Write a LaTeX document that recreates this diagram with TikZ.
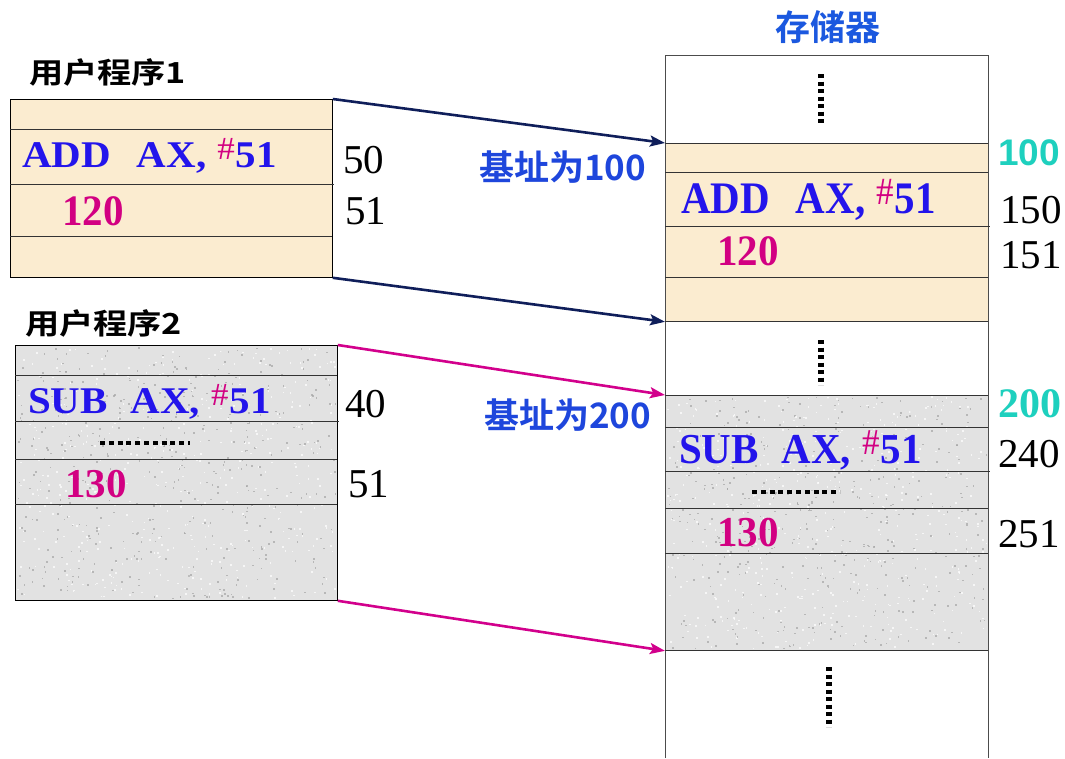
\documentclass[tikz,border=0pt]{standalone}
\usepackage{fontspec}
\setmainfont{Liberation Serif}
\newfontfamily\sansf{Liberation Sans}
\newfontfamily\cjk{Noto Sans CJK SC}[BoldFont={Noto Sans CJK SC Bold}]
\usetikzlibrary{arrows.meta}
\definecolor{insblue}{RGB}{35,20,235}
\definecolor{mag}{RGB}{210,0,130}
\definecolor{cyanlab}{RGB}{30,208,190}
\definecolor{labblue}{RGB}{30,70,220}
\definecolor{navyarr}{RGB}{15,30,90}
\definecolor{magarr}{RGB}{210,0,140}
\definecolor{beige}{RGB}{251,236,208}
\definecolor{granite}{RGB}{226,226,226}
\newcommand{\fs}[1]{\fontsize{#1pt}{#1pt}\selectfont}
\newcommand{\hsh}{\hspace{4pt}\raisebox{8pt}{\color{mag}\fs{35}\mdseries\#}\hspace{1pt}}
\tikzset{
  blk/.style={draw=black, line width=0.8pt, inner sep=0pt, anchor=north west},
  rowline/.style={black!80, line width=0.8pt},
  memline/.style={black!70, line width=0.9pt},
  txt/.style={inner sep=0pt, outer sep=0pt},
  ins/.style={txt, anchor=base west, text=insblue, font=\fs{41}\bfseries},
  val/.style={txt, anchor=base west, text=mag, font=\fs{41}\bfseries},
  addr/.style={txt, anchor=base west, text=black, font=\fs{41}},
  cjklab/.style={txt, anchor=west, font=\cjk\bfseries\fs{35}},
  arrA/.style={draw=navyarr, line width=2.6pt, -{Stealth[length=15pt,width=11pt,inset=3pt]}},
  arrB/.style={draw=magarr, line width=2.6pt, -{Stealth[length=15pt,width=11pt,inset=3pt]}},
  vdots/.style={line width=5.5pt, dash pattern=on 4.3pt off 3.2pt},
  hdots/.style={line width=4pt, dash pattern=on 5pt off 3.8pt},
}
\begin{document}
\begin{tikzpicture}[x=1pt, y=-1pt]
\useasboundingbox (0,0) rectangle (1065,758);
\fill[white] (0,0) rectangle (1065,758);
\pgfmathsetseed{7}

% ---------- program 1 ----------
\node[txt, anchor=west, font=\cjk\bfseries\fs{29}] (t1) at (29,72) {\scalebox{1.18}[1]{用户程序1}};
\node[blk, fill=beige, minimum width=322pt, minimum height=178pt] (p1) at (10,99) {};
\draw[rowline] (10,129) -- (332,129);
\draw[rowline] (10,184) -- (334,184);
\draw[rowline] (10,236) -- (332,236);
\node[ins] (add1) at (22,167) {\scalebox{1}[0.92]{ADD\hspace{26pt}AX,\hspace{7pt}\hsh51}};
\node[val] (v1) at (62,225) {\scalebox{1}[1.06]{120}};
\node[addr] (a50) at (343,173) {50};
\node[addr] (a51) at (345,224) {51};

% ---------- program 2 ----------
\node[txt, anchor=west, font=\cjk\bfseries\fs{29}] (t2) at (25,323) {\scalebox{1.18}[1]{用户程序2}};
\node[blk, fill=granite, minimum width=322pt, minimum height=255pt] (p2) at (15,345) {};
\foreach \i in {1,...,900}{
  \pgfmathsetmacro{\px}{17+rnd*318}\pgfmathsetmacro{\py}{347+rnd*251}
  \pgfmathsetmacro{\pc}{rnd>0.5?35:0}
  \fill[black!\pc!white, opacity=0.7] (\px,\py) rectangle ++(1.6,1.6);
}
\draw[rowline] (15,375) -- (337,375);
\draw[rowline] (15,421) -- (339,421);
\draw[rowline] (15,459) -- (337,459);
\draw[rowline] (15,504) -- (337,504);
\node[ins] (sub1) at (28,413) {\scalebox{1}[0.92]{SUB\hspace{23pt}AX,\hspace{7pt}\hsh51}};
\draw[hdots] (100,443) -- (190,443);
\node[val] (v2) at (65,497) {130};
\node[addr] (a40) at (345,417) {40};
\node[addr] (a51b) at (348,497) {51};

% ---------- memory ----------
\node[txt, anchor=west, text=labblue!90!cyan, font=\cjk\bfseries\fs{35}] (mem) at (775,27) {存储器};
\node[blk, draw=none, fill=beige, minimum width=323pt, minimum height=178pt] (m1) at (665,143) {};
\node[blk, draw=none, fill=granite, minimum width=323pt, minimum height=255pt] (m2) at (665,395) {};
\foreach \i in {1,...,900}{
  \pgfmathsetmacro{\px}{667+rnd*319}\pgfmathsetmacro{\py}{396+rnd*252}
  \pgfmathsetmacro{\pc}{rnd>0.5?35:0}
  \fill[black!\pc!white, opacity=0.7] (\px,\py) rectangle ++(1.6,1.6);
}
\draw[memline] (665,758) -- (665,55) -- (988,55) -- (988,758);
\foreach \yy in {143,172,277,321,395,427,508,553,650}{
  \draw[rowline] (665,\yy) -- (988,\yy);
}
\draw[rowline] (665,226) -- (990,226);
\draw[rowline] (665,471) -- (990,471);
\draw[vdots] (821,74) -- (821,123);
\draw[vdots] (821,340) -- (821,385);
\draw[vdots] (829,667) -- (829,727);
\draw[hdots] (752,492) -- (840,492);
\node[ins] (add2) at (681,213) {\scalebox{1}[1.1]{ADD\hspace{26pt}AX,\hspace{7pt}\hsh51}};
\node[val] (v3) at (717,265) {\scalebox{1}[1.06]{120}};
\node[ins] (sub2) at (679,463) {\scalebox{1}[1.04]{SUB\hspace{23pt}AX,\hspace{7pt}\hsh51}};
\node[val] (v4) at (717,546) {\scalebox{1}[1.04]{130}};

\node[txt, anchor=base west, text=cyanlab, font=\sansf\bfseries\fs{37}] (b100) at (998,165) {100};
\node[addr] (a150) at (1000,223) {150};
\node[addr] (a151) at (1000,268) {151};
\node[txt, anchor=base west, text=cyanlab, font=\bfseries\fs{42}] (b200) at (998,417) {200};
\node[addr] (a240) at (998,467) {240};
\node[addr] (a251) at (998,547) {251};

% ---------- arrows ----------
\draw[arrA] (p1.north east) -- (m1.north west);
\draw[arrA] (p1.south east) -- (m1.south west);
\draw[arrB] (p2.north east) -- (m2.north west);
\draw[arrB] (p2.south east) -- (m2.south west);
\node[cjklab, text=labblue] (base1) at (479,167) {基址为100};
\node[cjklab, text=labblue] (base2) at (484,415) {基址为200};
\end{tikzpicture}
\end{document}
